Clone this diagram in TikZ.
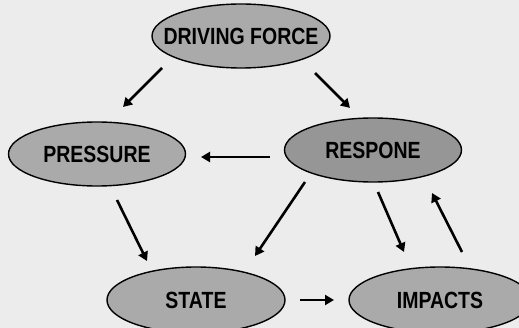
\documentclass[tikz,border=0pt]{standalone}
\usepackage{fontspec}
\setmainfont{Liberation Sans}
\usetikzlibrary{shapes.geometric,arrows.meta}
\definecolor{bg}{RGB}{236,236,236}
\definecolor{ell}{RGB}{170,170,170}
\definecolor{elldark}{RGB}{150,150,150}
\tikzset{
  ellnode/.style={ellipse, draw=black, line width=1.4pt, fill=ell, inner sep=0pt},
  arr/.style={line width=2.6pt, -{Triangle[length=9pt,width=10pt]}}
}
\newcommand{\lbl}[1]{\fontsize{19.5}{20}\selectfont\bfseries\scalebox{1}[1.2]{#1}}
\begin{document}
\begin{tikzpicture}[x=1pt,y=-1pt]
\fill[bg] (0,0) rectangle (519,328);
\useasboundingbox (0,0) rectangle (519,328);
\begin{scope}
\clip (0,0) rectangle (519,328);
\node[ellnode, minimum width=178, minimum height=64, label={center:\lbl{DRIVING FORCE}}] (df) at (241,36) {};
\node[ellnode, minimum width=177, minimum height=64, label={center:\lbl{PRESSURE}}] (pr) at (97,154) {};
\node[ellnode, fill=elldark, minimum width=177, minimum height=64, label={center:\lbl{RESPONE}}] (re) at (373,150) {};
\node[ellnode, minimum width=178, minimum height=66, label={center:\lbl{STATE}}] (st) at (196,300) {};
\node[ellnode, minimum width=182, minimum height=66, label={center:\lbl{IMPACTS}}] (im) at (440,300) {};
\end{scope}
% arrow end points
\coordinate (a1s) at (162,68);  \coordinate (a1e) at (123,107);
\coordinate (a2s) at (315,73);  \coordinate (a2e) at (350,108);
\coordinate (a3s) at (270,157); \coordinate (a3e) at (201,157);
\coordinate (a4s) at (117,200); \coordinate (a4e) at (147,261);
\coordinate (a5s) at (305,182); \coordinate (a5e) at (255,256);
\coordinate (a6s) at (378,192); \coordinate (a6e) at (404,252);
\coordinate (a7s) at (462,252); \coordinate (a7e) at (432,193);
\coordinate (a8s) at (300,300); \coordinate (a8e) at (334,300);
\draw[arr] (a1s) -- (a1e);
\draw[arr] (a2s) -- (a2e);
\draw[arr] (a3s) -- (a3e);
\draw[arr] (a4s) -- (a4e);
\draw[arr] (a5s) -- (a5e);
\draw[arr] (a6s) -- (a6e);
\draw[arr] (a7s) -- (a7e);
\draw[arr] (a8s) -- (a8e);
\end{tikzpicture}
\end{document}
